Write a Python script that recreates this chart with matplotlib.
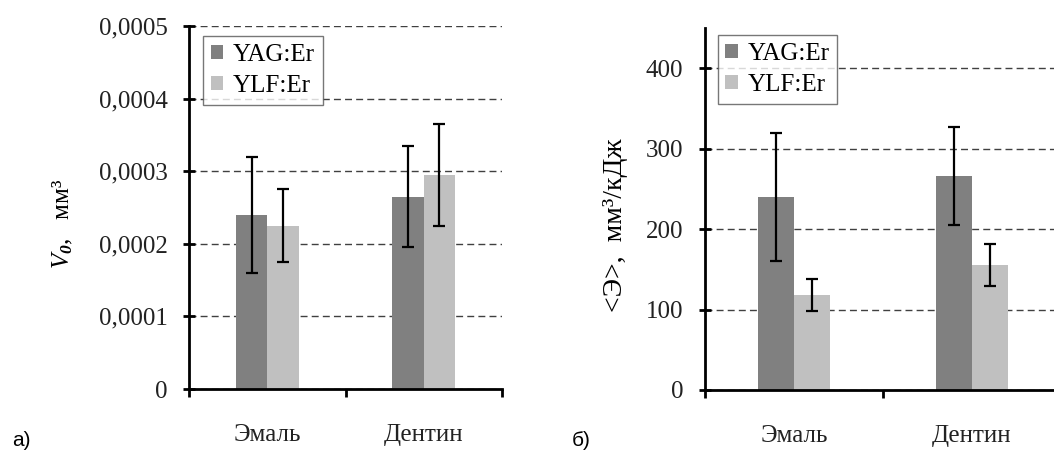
import numpy as np
import matplotlib
matplotlib.use("Agg")
import matplotlib.pyplot as plt

plt.rcParams['font.family'] = ['Liberation Serif', 'DejaVu Serif']
plt.rcParams['mathtext.fontset'] = 'custom'
plt.rcParams['mathtext.rm'] = 'Liberation Serif'
plt.rcParams['mathtext.it'] = 'Liberation Serif:italic'
plt.rcParams['mathtext.bf'] = 'Liberation Serif:bold:italic'

# данные
categories = ['Эмаль', 'Дентин']
series = ['YAG:Er', 'YLF:Er']
colors = ['#808080', '#c0c0c0']

v0_yag = [0.00024, 0.000265]
v0_yag_err = [0.00008, 0.00007]
v0_ylf = [0.000225, 0.000295]
v0_ylf_err = [0.00005, 0.00007]
v0_ticks = [0, 0.0001, 0.0002, 0.0003, 0.0004, 0.0005]
v0_ticklabels = ['0', '0,0001', '0,0002', '0,0003', '0,0004', '0,0005']

e_yag = [240, 266]
e_yag_err = [80, 61]
e_ylf = [118, 155]
e_ylf_err = [20, 26]
e_ticks = [0, 100, 200, 300, 400]
e_ticklabels = ['0', '100', '200', '300', '400']

fs = 18
fig = plt.figure(figsize=(10.54, 4.59), dpi=100)
ax1 = fig.add_axes([189/1054, 70/459, 313/1054, 363/459])
ax2 = fig.add_axes([705/1054, 69/459, 356/1054, 362/459])


def panel(ax, yag, yag_err, ylf, ylf_err, ticks, ticklabels, ymax, ylabel, lfs, lab_xy, leg_xy):
    x = np.arange(len(categories))
    w = 0.2
    ax.bar(x - w/2, yag, w, color=colors[0], label=series[0], zorder=2)
    ax.bar(x + w/2, ylf, w, color=colors[1], label=series[1], zorder=2)
    ax.errorbar(x - w/2, yag, yerr=yag_err, fmt='none', ecolor='black',
                elinewidth=1.6, capsize=4, capthick=1.6, zorder=3)
    ax.errorbar(x + w/2, ylf, yerr=ylf_err, fmt='none', ecolor='black',
                elinewidth=1.6, capsize=4, capthick=1.6, zorder=3)
    ax.set_xlim(-0.5, len(categories) - 0.5)
    ax.set_ylim(0, ymax)
    ax.set_yticks(ticks)
    ax.set_yticklabels(ticklabels)
    ax.set_xticks(np.arange(len(categories) + 1) - 0.5)
    ax.set_xticklabels([])
    ax.set_xticks(x, minor=True)
    ax.set_xticklabels(categories, minor=True)
    ax.tick_params(axis='x', which='major', direction='out', length=6, width=2)
    ax.tick_params(axis='x', which='minor', length=0, pad=25, labelsize=fs, labelcolor='#222222')
    ax.tick_params(axis='y', direction='inout', length=9, width=2, pad=11,
                   labelsize=fs, labelcolor='#222222')
    for s in ['top', 'right']:
        ax.spines[s].set_visible(False)
    for s in ['left', 'bottom']:
        ax.spines[s].set_linewidth(2)
        ax.spines[s].set_zorder(4)
    ax.yaxis.grid(True, color='#404040', linestyle=(0, (5, 3)), linewidth=1)
    ax.set_axisbelow(True)
    ax.set_ylabel(ylabel, fontsize=lfs)
    ax.yaxis.set_label_coords(*lab_xy)
    leg = ax.legend(loc='upper left', bbox_to_anchor=leg_xy, borderaxespad=0,
                    fontsize=fs, fancybox=False, edgecolor='#555555',
                    handlelength=0.5, handleheight=0.5, handletextpad=0.4,
                    labelspacing=0.38, borderpad=0.3)
    leg.get_frame().set_linewidth(1)
    leg.set_zorder(5)


panel(ax1, v0_yag, v0_yag_err, v0_ylf, v0_ylf_err, v0_ticks, v0_ticklabels, 0.0005,
      r'$V_{\mathbf{0}}$,   мм³', 18, (-0.364, 0.455), (0.045, 0.972))
panel(ax2, e_yag, e_yag_err, e_ylf, e_ylf_err, e_ticks, e_ticklabels, 450,
      '<Э>,  мм³/кДж', 20, (-0.215, 0.456), (0.0365, 0.98))

fig.text(12/1054, 1 - 441/459, 'а)', fontsize=15, family='Liberation Sans', va='center')
fig.text(572/1054, 1 - 441/459, 'б)', fontsize=15, family='Liberation Sans', va='center')

fig.savefig('out.png', dpi=100)
